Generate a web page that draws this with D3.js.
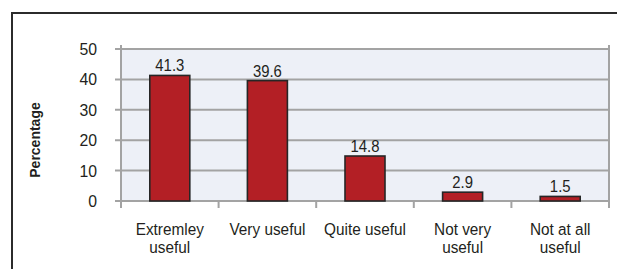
<!DOCTYPE html>
<html>
<head>
<style>
  body { margin: 0; background: #fff; }
  svg text { font-family: "Liberation Sans", Arial, sans-serif; fill: #231f20; }
</style>
</head>
<body>
<svg></svg>
<script src="https://cdnjs.cloudflare.com/ajax/libs/d3/7.8.5/d3.min.js"></script>
<script>
  // chart data
  const categories = [["Extremley", "useful"], ["Very useful"], ["Quite useful"], ["Not very", "useful"], ["Not at all", "useful"]];
  const values = [41.3, 39.6, 14.8, 2.9, 1.5];
  const yTicks = [0, 10, 20, 30, 40, 50];

  const width = 617, height = 269;
  const margin = { top: 49, left: 121, right: 8, bottom: 68 };
  const squeeze = 0.93; // the original type is a little condensed

  const svg = d3.select('svg').attr('width', width).attr('height', height);

  // outer frame (only top and left edges show in the crop)
  svg.append('path')
    .attr('d', `M12,${height + 2} L12,13 L${width + 2},13`)
    .attr('fill', 'none')
    .attr('stroke', '#2b2b2b')
    .attr('stroke-width', 2);

  const x = d3.scaleBand()
    .domain(d3.range(values.length))
    .range([margin.left, width - margin.right])
    .paddingInner(0).paddingOuter(0);

  const y = d3.scaleLinear()
    .domain([0, 50])
    .range([height - margin.bottom, margin.top]);

  const x0 = x.range()[0], x1 = x.range()[1];

  // plot background
  svg.append('rect')
    .attr('x', x0).attr('y', y(50))
    .attr('width', x1 - x0).attr('height', y(0) - y(50))
    .attr('fill', '#edf0f7');

  // horizontal grid lines + left ticks
  svg.append('g').selectAll('line')
    .data(yTicks)
    .join('line')
    .attr('x1', x0 - 6).attr('x2', x1)
    .attr('y1', d => y(d)).attr('y2', d => y(d))
    .attr('stroke', '#a3a3a3')
    .attr('stroke-width', 2);

  // vertical edges of the plot
  [x0, x1].forEach(xx => {
    svg.append('line')
      .attr('x1', xx).attr('x2', xx)
      .attr('y1', y(50) - 4).attr('y2', y(0) + 7)
      .attr('stroke', '#a3a3a3')
      .attr('stroke-width', 2);
  });

  // category boundary ticks
  svg.append('g').selectAll('line')
    .data(d3.range(1, values.length))
    .join('line')
    .attr('x1', d => x(d)).attr('x2', d => x(d))
    .attr('y1', y(0)).attr('y2', y(0) + 7)
    .attr('stroke', '#a3a3a3')
    .attr('stroke-width', 2);

  // y tick labels
  svg.append('g').selectAll('text')
    .data(yTicks)
    .join('text')
    .attr('transform', d => `translate(97,${y(d) + 6}) scale(${squeeze},1)`)
    .attr('text-anchor', 'end')
    .style('font-size', '17px')
    .text(d => d);

  // y axis title
  svg.append('text')
    .attr('transform', `translate(40,${(y(0) + y(50)) / 2 + 15}) rotate(-90)`)
    .attr('text-anchor', 'middle')
    .style('font-size', '14px')
    .style('font-weight', 'bold')
    .text('Percentage');

  // bars
  const barW = 40;
  svg.append('g').selectAll('rect')
    .data(values)
    .join('rect')
    .attr('x', (d, i) => x(i) + x.bandwidth() / 2 - barW / 2)
    .attr('y', d => y(d))
    .attr('width', barW)
    .attr('height', d => y(0) - y(d))
    .attr('fill', '#b31f25')
    .attr('stroke', '#262626')
    .attr('stroke-width', 1.6);

  // value labels
  svg.append('g').selectAll('text')
    .data(values)
    .join('text')
    .attr('transform', (d, i) => `translate(${x(i) + x.bandwidth() / 2},${y(d) - 4}) scale(${squeeze},1)`)
    .attr('text-anchor', 'middle')
    .style('font-size', '16px')
    .text(d => d.toFixed(1));

  // category labels, one text per line
  const lineH = 18;
  svg.append('g').selectAll('g')
    .data(categories)
    .join('g')
    .attr('transform', (d, i) => `translate(${x(i) + x.bandwidth() / 2},235)`)
    .selectAll('text')
    .data(d => d)
    .join('text')
    .attr('transform', (d, j) => `translate(0,${j * lineH}) scale(${squeeze},1)`)
    .attr('text-anchor', 'middle')
    .style('font-size', '16.5px')
    .text(d => d);
</script>
</body>
</html>
